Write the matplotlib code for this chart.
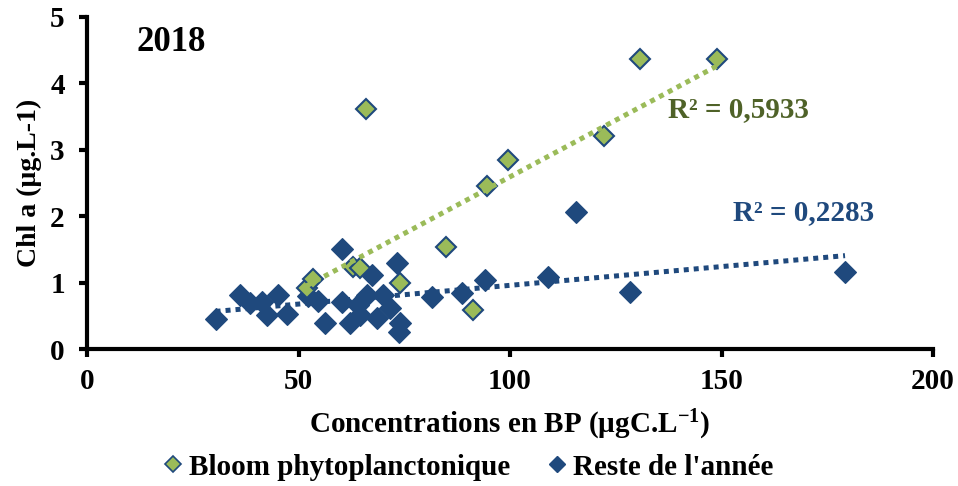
import numpy as np
import matplotlib
matplotlib.use("Agg")
import matplotlib.pyplot as plt
from matplotlib.lines import Line2D

plt.rcParams['font.family'] = ['Liberation Serif', 'DejaVu Serif']
plt.rcParams['font.weight'] = 'bold'
plt.rcParams['mathtext.fontset'] = 'custom'
plt.rcParams['mathtext.rm'] = 'Liberation Serif:bold'
plt.rcParams['mathtext.bf'] = 'Liberation Serif:bold'
plt.rcParams['mathtext.default'] = 'bf'

# Data
bloom_x = [51.9, 53.4, 62.9, 64.5, 66.0, 74.0, 84.9, 91.3, 94.6, 99.5, 122.2, 130.7, 148.9]
bloom_y = [0.92, 1.05, 1.23, 1.22, 3.61, 1.00, 1.54, 0.59, 2.45, 2.85, 3.21, 4.37, 4.37]

reste_x = [30.4, 36.2, 38.5, 41.3, 45.2, 42.5, 47.2, 52.3, 54.5, 56.3, 60.2, 60.2, 62.2,
           64.1, 64.5, 66.1, 67.3, 68.5, 70.0, 71.6, 73.2, 74.0, 73.8, 81.6, 88.6, 94.0,
           109.1, 115.6, 128.4, 179.2]
reste_y = [0.45, 0.81, 0.69, 0.71, 0.81, 0.51, 0.52, 0.80, 0.72, 0.39, 1.51, 0.71, 0.39,
           0.66, 0.51, 0.81, 1.11, 0.46, 0.81, 0.62, 1.29, 0.39, 0.26, 0.79, 0.84, 1.04,
           1.09, 2.06, 0.86, 1.16]

r2_bloom = "R² = 0,5933"
r2_reste = "R² = 0,2283"
year_label = "2018"
x_ticks = [0, 50, 100, 150, 200]
y_ticks = [0, 1, 2, 3, 4, 5]

green = '#9BBB59'
blue = '#1F497D'
olive = '#4F6228'

fig = plt.figure(figsize=(9.58, 4.86), dpi=100)
ax = fig.add_axes([87/958, 1-349/486, (933-87)/958, (349-17)/486])

ax.plot(reste_x, reste_y, linestyle='none', marker='D', markersize=11.5,
        markerfacecolor=blue, markeredgecolor=blue, markeredgewidth=0.8, zorder=3)
ax.plot(bloom_x, bloom_y, linestyle='none', marker='D', markersize=10.5,
        markerfacecolor=green, markeredgecolor=blue, markeredgewidth=1.5, zorder=4)

# linear trendlines
for xs, ys, col in [(reste_x, reste_y, blue), (bloom_x, bloom_y, green)]:
    xs = np.array(xs); ys = np.array(ys)
    p = np.polyfit(xs, ys, 1)
    xx = np.array([xs.min(), xs.max()])
    ax.plot(xx, np.polyval(p, xx), color=col, linewidth=3.6, dashes=(1, 1),
            dash_capstyle='butt', zorder=5)

ax.set_xlim(0, 200)
ax.set_ylim(0, 5)
ax.set_xticks(x_ticks)
ax.set_yticks(y_ticks)
for s in ['top', 'right']:
    ax.spines[s].set_visible(False)
for s in ['left', 'bottom']:
    ax.spines[s].set_linewidth(3)
ax.tick_params(axis='both', direction='out', length=6, width=3, labelsize=21)
ax.tick_params(axis='y', pad=10)
ax.tick_params(axis='x', pad=8)
for lab in ax.get_xticklabels() + ax.get_yticklabels():
    lab.set_fontweight('bold')

ax.set_ylabel("Chl a (µg.L-1)", fontsize=20, fontweight='bold', labelpad=6)
ax.set_xlabel(r"Concentrations en BP (µgC.L$^{-1}$)", fontsize=21, fontweight='bold', labelpad=9)

ax.text(0.099, 0.922, year_label, transform=ax.transAxes, fontsize=25,
        fontweight='bold', ha='center', va='center')
ax.text(154.1, 3.60, r2_bloom, fontsize=21, fontweight='bold', color=olive,
        ha='center', va='center')
ax.text(169.3, 2.06, r2_reste, fontsize=21, fontweight='bold', color=blue,
        ha='center', va='center')

handles = [
    Line2D([], [], linestyle='none', marker='D', markersize=8, markerfacecolor=green,
           markeredgecolor=blue, markeredgewidth=1.2),
    Line2D([], [], linestyle='none', marker='D', markersize=8, markerfacecolor=blue,
           markeredgecolor=blue),
]
fig.legend(handles, ["Bloom phytoplanctonique", "Reste de l'année"], loc='center',
           bbox_to_anchor=(469/958, 1-467/486), ncol=2, frameon=False,
           handlelength=0.6, handletextpad=0.25, columnspacing=1.3,
           prop={'weight': 'bold', 'size': 21})

fig.savefig("out.png", dpi=100)
